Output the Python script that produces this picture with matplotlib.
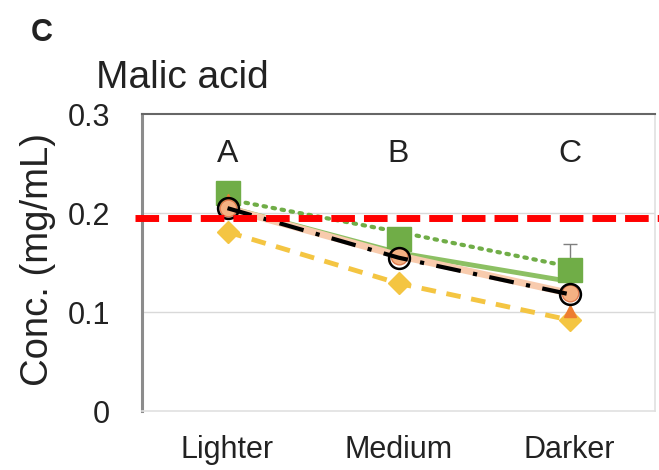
import matplotlib
matplotlib.use("Agg")
import matplotlib.pyplot as plt
from matplotlib.lines import Line2D
from matplotlib.transforms import blended_transform_factory

plt.rcParams['font.family'] = ['Liberation Sans', 'DejaVu Sans']

categories = ["Lighter", "Medium", "Darker"]
group_letters = ["A", "B", "C"]
yticks = [0, 0.1, 0.2, 0.3]
ytick_labels = ["0", "0.1", "0.2", "0.3"]

green_squares = [0.220, 0.174, 0.143]
green_square_err_up = [0.0, 0.0, 0.026]
green_solid = [0.206, 0.160, 0.131]
green_dotted = [0.214, 0.181, 0.146]
orange_tri = [0.213, 0.160, 0.101]
salmon_circ = [0.205, 0.157, 0.119]
black_circ = [0.205, 0.155, 0.118]
yellow_diam = [0.181, 0.129, 0.092]
threshold = 0.195

fig = plt.figure(figsize=(6.59, 4.70), dpi=100)
ax = fig.add_axes([0.2155, 0.1255, 0.7785, 0.6315])
x = list(range(len(categories)))

ax.set_xlim(-0.5, 2.5)
ax.set_ylim(0, 0.3)
ax.set_yticks(yticks)
ax.set_yticklabels(ytick_labels)
ax.set_xticks(x)
ax.set_xticklabels(categories)
ax.tick_params(axis='both', length=0, labelsize=22, colors='#222222')
ax.tick_params(axis='y', pad=23)
ax.tick_params(axis='x', pad=17)
for yy in [0.1, 0.2]:
    ax.axhline(yy, color='#d9d9d9', lw=1, zorder=0)

ax.spines['left'].set_color('#8c8c8c'); ax.spines['left'].set_linewidth(2.2)
ax.spines['top'].set_color('#666666'); ax.spines['top'].set_linewidth(1.5)
for s in ['right', 'bottom']:
    ax.spines[s].set_color('#e0e0e0'); ax.spines[s].set_linewidth(1.2)

# series
ax.plot(x, green_dotted, color='#70AD47', lw=3, ls=(0, (0.6, 1.6)), dash_capstyle='round', zorder=2)
ax.plot(x, green_solid, color='#8CC063', lw=3.5, zorder=2)
ax.errorbar(x, green_squares, yerr=[[0, 0, 0], green_square_err_up], fmt='none',
            ecolor='#7f7f7f', elinewidth=1, capsize=5, zorder=2)
ax.plot(x, green_squares, ls='none', marker='s', ms=17, mfc='#70AD47', mec='#70AD47', zorder=3)
ax.plot(x, yellow_diam, color='#F4C542', lw=3.5, ls=(0, (3, 2.2)), marker='D', ms=11,
        mfc='#F4C542', mec='#F4C542', zorder=3)
ax.plot(x, orange_tri, ls='none', marker='^', ms=9, mfc='#ED7D31', mec='#ED7D31', zorder=3)
ax.plot(x, salmon_circ, color='#F8CBAD', lw=5, marker='o', ms=12, mfc='#F4B183', mec='#E07B4F', zorder=4)
ax.plot(x, black_circ, color='black', lw=3, ls=(0, (6, 3, 1, 3)), marker='o', ms=15,
        mfc='none', mec='black', mew=1.8, zorder=5)

for xi, letter in zip(x, group_letters):
    ax.text(xi, 0.26, letter, ha='center', va='center', fontsize=23, color='#222222')

# threshold line extending beyond the axes
tr = blended_transform_factory(fig.transFigure, ax.transData)
fig.add_artist(Line2D([135/659, 1.0], [threshold, threshold], transform=tr,
                      color='#FF0000', lw=5, dashes=(3.4, 1.3), zorder=10))

fig.text(0.058, 0.447, "Conc. (mg/mL)", fontsize=27.5, rotation=90, ha='center', va='center',
         color='#222222')
fig.text(0.145, 0.834, "Malic acid", fontsize=28, ha='left', va='center', color='#222222')
fig.text(0.064, 0.930, "C", fontsize=22, fontweight='bold', ha='center', va='center', color='#222222')

fig.savefig("out.png", dpi=100)
